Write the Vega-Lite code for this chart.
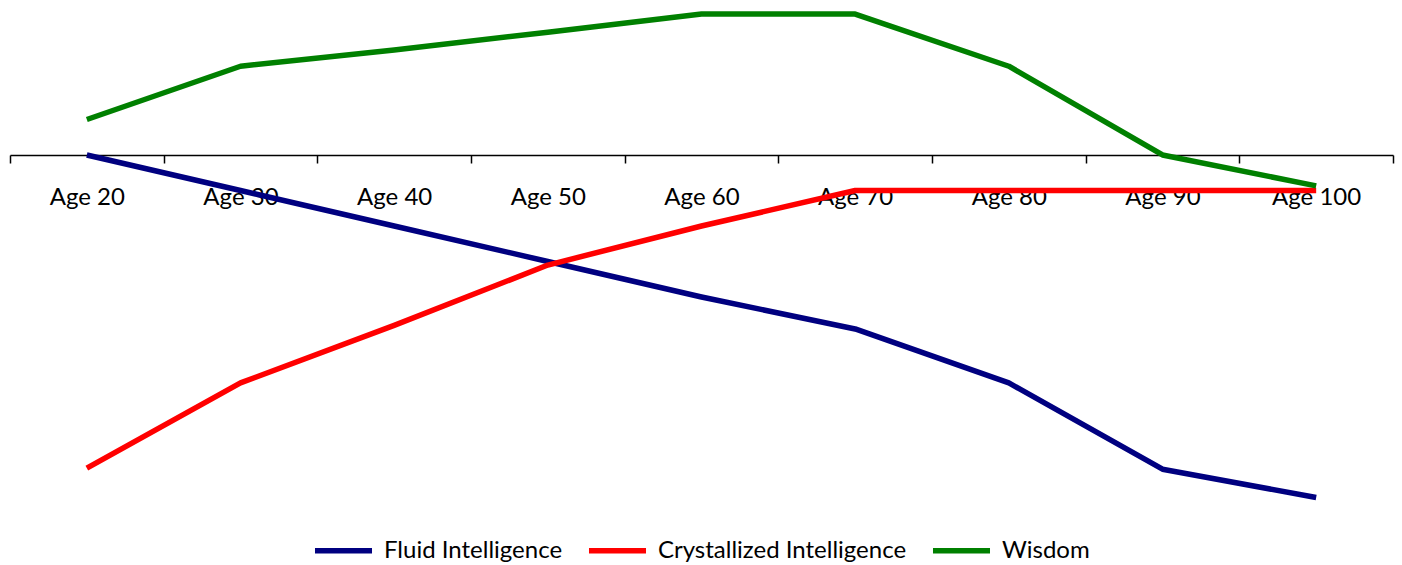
{
  "$schema": "https://vega.github.io/schema/vega-lite/v6.json",
  "width": 1383,
  "height": 505,
  "autosize": "none",
  "padding": {"left": 10, "top": 5, "right": 9, "bottom": 55},
  "background": "white",
  "config": {"view": {"stroke": null}, "font": "Lato"},
  "data": {"values": [
    {"age": 20, "series": "Fluid Intelligence", "value": 0},
    {"age": 30, "series": "Fluid Intelligence", "value": -1},
    {"age": 40, "series": "Fluid Intelligence", "value": -2},
    {"age": 50, "series": "Fluid Intelligence", "value": -3},
    {"age": 60, "series": "Fluid Intelligence", "value": -4},
    {"age": 70, "series": "Fluid Intelligence", "value": -4.9},
    {"age": 80, "series": "Fluid Intelligence", "value": -6.42},
    {"age": 90, "series": "Fluid Intelligence", "value": -8.85},
    {"age": 100, "series": "Fluid Intelligence", "value": -9.65},
    {"age": 20, "series": "Crystallized Intelligence", "value": -8.82},
    {"age": 30, "series": "Crystallized Intelligence", "value": -6.42},
    {"age": 40, "series": "Crystallized Intelligence", "value": -4.8},
    {"age": 50, "series": "Crystallized Intelligence", "value": -3.1},
    {"age": 60, "series": "Crystallized Intelligence", "value": -2},
    {"age": 70, "series": "Crystallized Intelligence", "value": -1},
    {"age": 80, "series": "Crystallized Intelligence", "value": -1},
    {"age": 90, "series": "Crystallized Intelligence", "value": -1},
    {"age": 100, "series": "Crystallized Intelligence", "value": -1},
    {"age": 20, "series": "Wisdom", "value": 1},
    {"age": 30, "series": "Wisdom", "value": 2.5},
    {"age": 40, "series": "Wisdom", "value": 2.96},
    {"age": 50, "series": "Wisdom", "value": 3.46},
    {"age": 60, "series": "Wisdom", "value": 3.97},
    {"age": 70, "series": "Wisdom", "value": 3.97},
    {"age": 80, "series": "Wisdom", "value": 2.5},
    {"age": 90, "series": "Wisdom", "value": 0},
    {"age": 100, "series": "Wisdom", "value": -0.87}
  ]},
  "mark": {"type": "line", "strokeWidth": 5.5, "strokeCap": "butt", "strokeJoin": "round"},
  "encoding": {
    "x": {"field": "age", "type": "quantitative",
          "scale": {"domain": [15, 105], "nice": false, "zero": false},
          "axis": {"values": [15, 25, 35, 45, 55, 65, 75, 85, 95, 105],
                   "labelExpr": "datum.value < 100 ? 'Age ' + (datum.value + 5) : ''",
                   "labelOffset": 76.8, "labelOverlap": false, "labelBound": false, "labelFlush": false,
                   "labelPadding": 22, "labelFontSize": 24, "labelColor": "#000000", "labelFont": "Lato",
                   "title": null, "grid": false,
                   "offset": -355, "domainColor": "#000000", "domainWidth": 1.5, "tickColor": "#000000", "tickWidth": 1.5, "tickSize": 8}},
    "y": {"field": "value", "type": "quantitative",
          "scale": {"domain": [-10, 4.225], "nice": false, "zero": false},
          "axis": null},
    "color": {"field": "series", "type": "nominal",
              "scale": {"domain": ["Fluid Intelligence", "Crystallized Intelligence", "Wisdom"], "range": ["#000080", "#ff0000", "#008000"]},
              "legend": {"orient": "none", "legendX": 302, "legendY": 514, "direction": "horizontal", "title": null,
                         "symbolType": "stroke", "symbolStrokeWidth": 5.5, "symbolSize": 3250,
                         "labelFontSize": 24, "labelColor": "#000000", "labelFont": "Lato", "columnPadding": 14, "labelOffset": 9, "labelLimit": 400}}
  }
}
